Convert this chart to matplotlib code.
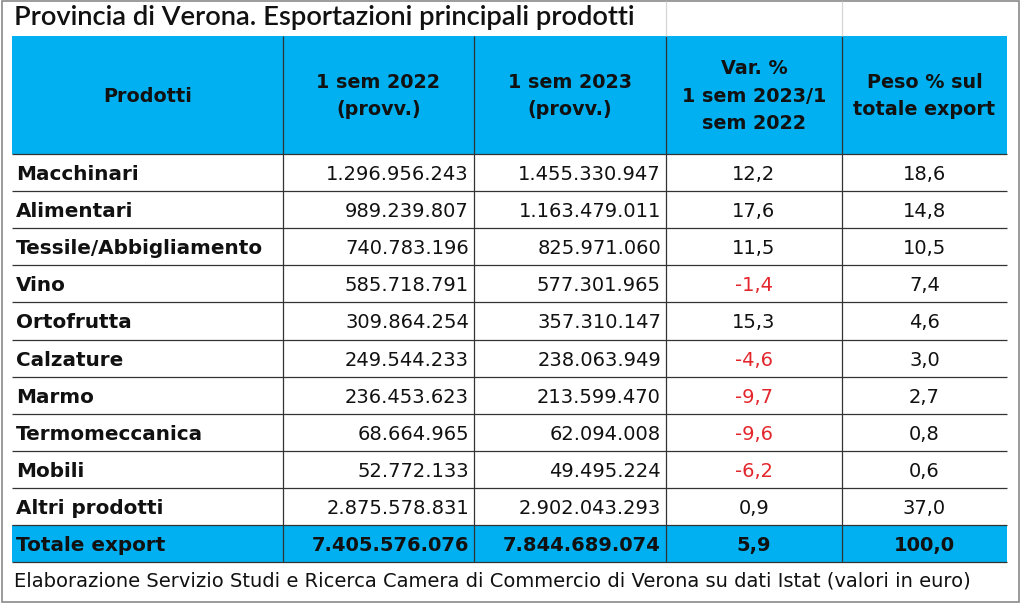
import matplotlib
matplotlib.use("Agg")
import matplotlib.pyplot as plt
from matplotlib.patches import Rectangle

# Data: export of main products, Verona province (euro)
products = [
    "Macchinari", "Alimentari", "Tessile/Abbigliamento", "Vino", "Ortofrutta",
    "Calzature", "Marmo", "Termomeccanica", "Mobili", "Altri prodotti",
]
sem_2022 = [1296956243, 989239807, 740783196, 585718791, 309864254,
            249544233, 236453623, 68664965, 52772133, 2875578831]
sem_2023 = [1455330947, 1163479011, 825971060, 577301965, 357310147,
            238063949, 213599470, 62094008, 49495224, 2902043293]
var_pct = [12.2, 17.6, 11.5, -1.4, 15.3, -4.6, -9.7, -9.6, -6.2, 0.9]
peso_pct = [18.6, 14.8, 10.5, 7.4, 4.6, 3.0, 2.7, 0.8, 0.6, 37.0]

total_label = "Totale export"
total_2022 = 7405576076
total_2023 = 7844689074
total_var = 5.9
total_peso = 100.0

headers = ["Prodotti", "1 sem 2022\n(provv.)", "1 sem 2023\n(provv.)",
           "Var. %\n1 sem 2023/1\nsem 2022", "Peso % sul\ntotale export"]

title = "Provincia di Verona. Esportazioni principali prodotti"
note = ("Elaborazione Servizio Studi e Ricerca Camera di Commercio di Verona "
        "su dati Istat (valori in euro)")

BLUE = "#00b0f0"
RED = "#e3262c"
LINE = "#333333"


def fmt_int(v):
    return f"{v:,}".replace(",", ".")


def fmt_dec(v):
    return f"{v:.1f}".replace(".", ",")


def fit_width(t, target, renderer):
    # shrink/grow font so the text spans the target width in pixels
    w = t.get_window_extent(renderer).width
    t.set_fontsize(t.get_fontsize() * target / w)


fig = plt.figure(figsize=(10.24, 6.04), dpi=100)
ax = fig.add_axes([0, 0, 1, 1])
ax.set_xlim(0, 1024)
ax.set_ylim(604, 0)
ax.axis("off")

col_x = [12, 283, 474, 666, 842, 1007]
head_top, head_bot = 36, 154
row_h = 37.1
n = len(products)
row_y = [head_bot + i * row_h for i in range(n + 2)]

# backgrounds
ax.add_patch(Rectangle((col_x[0], head_top), col_x[-1] - col_x[0],
                       head_bot - head_top, color=BLUE, lw=0))
ax.add_patch(Rectangle((col_x[0], row_y[n]), col_x[-1] - col_x[0],
                       row_h, color=BLUE, lw=0))

# grid lines
ax.hlines(row_y, col_x[0], col_x[-1], color=LINE, lw=0.9)
ax.vlines(col_x[1:-1], head_top, row_y[-1], color=LINE, lw=0.9)
ax.vlines(col_x[3:5], 1, head_top, color="#d6d6d6", lw=0.9)

# outer frame of the picture
ax.add_patch(Rectangle((2, 1), 1017, 601, fill=False, ec="#8a8a8a", lw=1.2))

# header
for j, h in enumerate(headers):
    cx = (col_x[j] + col_x[j + 1]) / 2
    ax.text(cx, (head_top + head_bot) / 2 + 1, h, ha="center", va="center",
            fontsize=13.8, fontweight="bold", color="#111111",
            linespacing=1.55, family="DejaVu Sans")

# body rows
for i in range(n):
    yc = (row_y[i] + row_y[i + 1]) / 2
    ax.text(16, yc, products[i], ha="left", va="center_baseline",
            fontsize=14.4, fontweight="bold", color="#111111")
    ax.text(col_x[2] - 5, yc, fmt_int(sem_2022[i]), ha="right",
            va="center_baseline", fontsize=14, color="#111111")
    ax.text(col_x[3] - 5, yc, fmt_int(sem_2023[i]), ha="right",
            va="center_baseline", fontsize=14, color="#111111")
    ax.text((col_x[3] + col_x[4]) / 2, yc, fmt_dec(var_pct[i]), ha="center",
            va="center_baseline", fontsize=14,
            color=RED if var_pct[i] < 0 else "#111111")
    ax.text((col_x[4] + col_x[5]) / 2, yc, fmt_dec(peso_pct[i]), ha="center",
            va="center_baseline", fontsize=14, color="#111111")

# total row
yc = (row_y[n] + row_y[n + 1]) / 2
bold = dict(va="center_baseline", fontsize=14, fontweight="bold", color="#111111")
ax.text(16, yc, total_label, ha="left", **dict(bold, fontsize=14.4))
ax.text(col_x[2] - 5, yc, fmt_int(total_2022), ha="right", **bold)
ax.text(col_x[3] - 5, yc, fmt_int(total_2023), ha="right", **bold)
ax.text((col_x[3] + col_x[4]) / 2, yc, fmt_dec(total_var), ha="center", **bold)
ax.text((col_x[4] + col_x[5]) / 2, yc, fmt_dec(total_peso), ha="center", **bold)

# title and source note
t_title = ax.text(14, 18, title, ha="left", va="center", fontsize=20,
                  family="Lato", fontweight="semibold", color="#111111")
t_note = ax.text(14, 581, note, ha="left", va="center", fontsize=13,
                 family="DejaVu Sans", color="#111111")

renderer = fig.canvas.get_renderer()
fit_width(t_title, 623, renderer)
fit_width(t_note, 953, renderer)

fig.savefig("out.png", dpi=100)
